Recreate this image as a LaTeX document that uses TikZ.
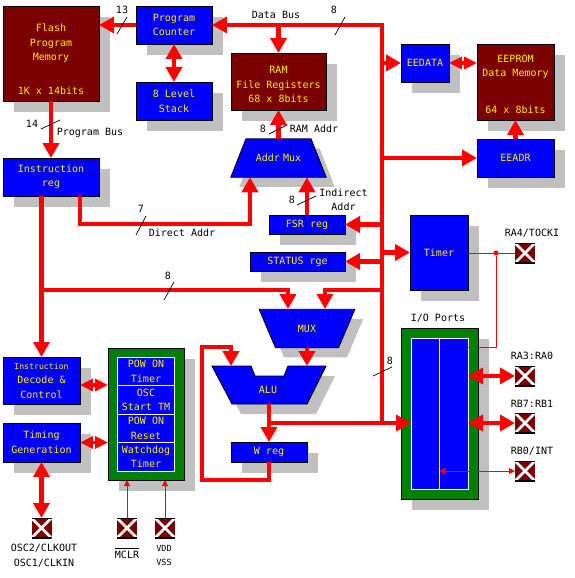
\documentclass[tikz,border=0pt]{standalone}
\usepackage{fontspec}
\setmainfont{DejaVu Sans Mono}
\usepackage{xcolor}
\usetikzlibrary{arrows.meta,shapes.geometric,shadows}
\definecolor{memred}{HTML}{7B0000}
\definecolor{boxgreen}{HTML}{008000}
\definecolor{shadowgray}{HTML}{C0C0C0}
\begin{document}
\begin{tikzpicture}[x=1pt,y=-1pt,
  every node/.style={inner sep=0pt,outer sep=0pt,font=\fontsize{10}{14.5}\selectfont,align=center},
  shaded/.style={general shadow={fill=shadowgray,shadow xshift=11pt,shadow yshift=-11pt}},
  polyshaded/.style={general shadow={fill=shadowgray,shadow xshift=8.5pt,shadow yshift=-9.5pt}},
  bluebox/.style={draw=black,line width=0.9pt,fill=blue,text=yellow,shaded},
  membox/.style={draw=black,line width=0.9pt,fill=memred,text=yellow,shaded},
  greenbox/.style={draw=black,line width=0.9pt,fill=boxgreen,shaded},
  cellbox/.style={draw=white,line width=0.8pt,fill=blue,text=yellow,minimum width=57.5pt,minimum height=28.5pt},
  muxbox/.style={draw=black,line width=0.9pt,fill=blue,text=yellow,trapezium,polyshaded,text height=23pt,text depth=15.5pt},
  ytext/.style={text=yellow},
  smalltext/.style={font=\fontsize{8.5}{14.5}\selectfont},
  padbox/.style={fill=memred,minimum size=20pt,path picture={
    \draw[white,line width=2.6pt] (path picture bounding box.north west)--(path picture bounding box.south east);
    \draw[white,line width=2.6pt] (path picture bounding box.north east)--(path picture bounding box.south west);
    \draw[black,line width=1.4pt] (path picture bounding box.north west)--(path picture bounding box.north east);
    \draw[black,line width=1.4pt] (path picture bounding box.south west)--(path picture bounding box.south east);}},
  bus/.style={red,line width=4.6pt},
  arr/.style={bus,-{Triangle[length=15pt,width=16pt]}},
  dbl/.style={bus,{Triangle[length=15pt,width=16pt]}-{Triangle[length=15pt,width=16pt]}},
  dblmid/.style={red,line width=3.6pt,{Triangle[length=13pt,width=12pt]}-{Triangle[length=13pt,width=12pt]}},
  wire/.style={red,line width=0.9pt},
  wirearr/.style={wire,-{Triangle[length=6pt,width=6pt]}},
  wiredbl/.style={wire,{Triangle[length=6pt,width=6pt]}-{Triangle[length=6pt,width=6pt]}},
  tick/.style={black,line width=0.7pt}]
  \useasboundingbox (0,0) rectangle (575,578);

  % Program side
  \node (flash) [membox,minimum width=96pt,minimum height=95pt] at (51,53.5) {};
  \node (flashname) [ytext] at (51,43.5) {Flash\\Program\\Memory};
  \node (flashsize) [ytext] at (51,91) {1K x 14bits};
  \node (pc) [bluebox,minimum width=76pt,minimum height=38pt] at (174,25) {Program\\Counter};
  \node (stack) [bluebox,minimum width=76pt,minimum height=38pt] at (174,101) {8 Level\\Stack};
  \node (instr) [bluebox,minimum width=96pt,minimum height=38pt] at (51,177) {Instruction\\reg};

  % RAM and address mux
  \node (ram) [membox,minimum width=95pt,minimum height=57pt] at (278.5,81.5) {};
  \node (ramname) [ytext] at (278.5,84.5) {RAM\\File Registers\\68 x 8bits};
  \node (addrmux) [muxbox,text width=65pt,trapezium angle=68.5] at (278.5,158) {Addr Mux};
  \node (fsr) [bluebox,minimum width=76pt,minimum height=19pt] at (307,224.5) {FSR reg};
  \node (status) [bluebox,minimum width=95pt,minimum height=19pt] at (297.5,261.5) {STATUS rge};

  % EEPROM
  \node (eedata) [bluebox,minimum width=48pt,minimum height=38pt] at (425,63) {EEDATA};
  \node (eeprom) [membox,minimum width=77pt,minimum height=76pt] at (515.5,82) {};
  \node (eepromname) [ytext] at (515.5,67) {EEPROM\\Data Memory};
  \node (eepromsize) [ytext] at (515.5,110) {64 x 8bits};
  \node (eeadr) [bluebox,minimum width=77pt,minimum height=38pt] at (515.5,158) {EEADR};

  % Timer and ports
  \node (timer) [bluebox,minimum width=58pt,minimum height=75pt] at (439,252.5) {Timer};
  \node (ioname) at (438,318) {I/O Ports};
  \node (iobox) [greenbox,minimum width=77pt,minimum height=171pt] at (439.5,413.5) {};
  \node (ioinner) [draw=white,line width=0.8pt,fill=blue,minimum width=57pt,minimum height=151pt] at (439.5,413.5) {};
  \draw[white,line width=0.8pt] (ioinner.north) -- (ioinner.south);

  % Pins on the right
  \node (ra4) [padbox] at (525,253) {};
  \node (ra3) [padbox] at (525,376) {};
  \node (rb7) [padbox] at (525,423) {};
  \node (rb0) [padbox] at (525,471) {};
  \node (ra4name) at (532,233) {RA4/TOCKI};
  \node (ra3name) at (532,356) {RA3:RA0};
  \node (rb7name) at (532,404) {RB7:RB1};
  \node (rb0name) at (532,451) {RB0/INT};

  % MUX, ALU, W reg
  \node (mux) [muxbox,text width=63pt,trapezium angle=67,shape border rotate=180] at (307,328.5) {MUX};
  \fill[shadowgray] (221,376) -- (260,376) -- (264,386) -- (293,386) -- (297,376) -- (335,376) -- (316,414) -- (241,414) -- cycle;
  \draw[line width=0.9pt,fill=blue] (212,366) -- (251,366) -- (255,376) -- (284,376) -- (288,366) -- (326,366) -- (307,404) -- (232,404) -- cycle;
  \node (alu) [ytext] at (268,390) {ALU};
  \coordinate (aluleft) at (231,366);
  \coordinate (aluright) at (307,366);
  \coordinate (aluout) at (269,404);
  \node (wreg) [bluebox,minimum width=76pt,minimum height=20pt] at (269,452) {W reg};

  % Control side
  \node (decode) [bluebox,minimum width=77pt,minimum height=47pt] at (41.5,380.5) {{\fontsize{8.2}{14.5}\selectfont Instruction}\\Decode \&\\Control};
  \node (timing) [bluebox,minimum width=77pt,minimum height=39pt] at (41.5,442.5) {Timing\\Generation};
  \node (oscbox) [greenbox,minimum width=76pt,minimum height=132pt] at (146,414) {};
  \node (powtimer) [cellbox] at (146,371.25) {POW ON\\Timer};
  \node (osctimer) [cellbox] at (146,399.75) {OSC\\Start TM};
  \node (powreset) [cellbox] at (146,428.25) {POW ON\\Reset};
  \node (watchdog) [cellbox] at (146,456.75) {Watchdog\\Timer};

  % Pins at the bottom
  \node (oscpad) [padbox] at (41.5,528) {};
  \node (mclrpad) [padbox] at (127,528) {};
  \node (vddpad) [padbox] at (165,528) {};
  \node (oscname) at (44,555.5) {OSC2/CLKOUT\\OSC1/CLKIN};
  \node (mclrname) at (127,553) {$\overline{\mbox{\rule{0pt}{8.5pt}MCLR}}$};
  \node (vddname) [smalltext] at (164,555.5) {VDD\\VSS};

  % Data bus
  \coordinate (bustop) at (382,25);
  \coordinate (busmid) at (382,290);
  \coordinate (busbot) at (382,423);
  \draw[arr] (busbot) -- (bustop) -- (pc.east);
  \draw[arr] (bustop -| ram.north) -- (ram.north);
  \draw[arr] (bustop |- eedata.west) -- (eedata.west);
  \draw[arr] (bustop |- eeadr.west) -- (eeadr.west);
  \draw[arr] (bustop |- fsr.east) -- (fsr.east);
  \draw[arr] (bustop |- timer.west) -- (timer.west);
  \draw[arr] (bustop |- status.east) -- (status.east);

  % Program connections
  \draw[arr] (pc.west) -- (pc.west -| flash.east);
  \draw[dbl] (pc.south) -- (stack.north);
  \draw[arr] (flash.south) -- (instr.north);
  \coordinate (direct) at (250,224);
  \draw[arr] ([xshift=29pt]instr.south) |- (direct) -- (direct |- addrmux.south);

  % RAM and EEPROM connections
  \draw[arr] (addrmux.north) -- (ram.south);
  \draw[arr] (fsr.north) -- (fsr.north |- addrmux.south);
  \draw[dblmid] (eedata.east) -- (eedata.east -| eeprom.west);
  \draw[arr] (eeadr.north) -- (eeprom.south);

  % Instruction bus down to the MUX and decoder
  \coordinate (muxleft) at (288,309);
  \coordinate (muxright) at (325,309);
  \draw[arr] (decode.north |- instr.south) -- (decode.north);
  \draw[arr] (decode.north |- busmid) -| (muxleft);
  \draw[arr] (busmid) -| (muxright);

  % ALU loop
  \coordinate (loopbot) at (202,480);
  \coordinate (looptop) at (202,347);
  \draw[arr] (mux.south) -- (aluright);
  \draw[arr] (aluout) -- (wreg.north);
  \draw[arr] (aluout |- busbot) -- (ioinner.west |- busbot);
  \draw[arr] (wreg.south) |- (loopbot) -- (looptop) -| (aluleft);

  % Control connections
  \draw[dblmid] ([yshift=-4.5pt]decode.east) -- ([yshift=-4.5pt]decode.east -| oscbox.west);
  \draw[dblmid] (timing.east) -- (timing.east -| oscbox.west);
  \draw[dbl] (timing.south) -- (oscpad.north);
  \draw[wirearr] (mclrpad.north) -- (mclrpad.north |- oscbox.south);
  \draw[wirearr] (vddpad.north) -- (vddpad.north |- oscbox.south);

  % Port connections
  \node (tap) [circle,fill=red,minimum size=5pt] at (496,253) {};
  \draw[wire] (timer.east |- ra4.west) -- (ra4.west);
  \draw[wire] (tap) |- ([yshift=-9pt]ioinner.north east);
  \draw[dbl] (ioinner.east |- ra3.west) -- (ra3.west);
  \draw[dbl] (ioinner.east |- rb7.west) -- (rb7.west);
  \draw[wiredbl] (ioinner.center |- rb0.west) -- (rb0.west);

  % Bus width ticks and bus names
  \draw[tick] (117,34) -- (127,17);
  \node (width13) at (122,10) {13};
  \draw[tick] (41,129) -- (60,120);
  \node (width14) at (32,124) {14};
  \node (progbus) at (90,133) {Program Bus};
  \node (databus) at (276,15) {Data Bus};
  \draw[tick] (335,35) -- (345,17);
  \node (width8a) at (334,10) {8};
  \draw[tick] (269,134) -- (287,125);
  \node (width8b) at (263,129) {8};
  \node (ramaddr) at (314,129) {RAM Addr};
  \draw[tick] (136,235) -- (146,216);
  \node (width7) at (141,209) {7};
  \node (directname) at (182,233) {Direct Addr};
  \draw[tick] (164,300) -- (174,282);
  \node (width8c) at (168,276) {8};
  \draw[tick] (297,205) -- (316,196);
  \node (width8d) at (292,200) {8};
  \node (indirectname) at (343.5,200) {Indirect\\Addr};
  \draw[tick] (373,376) -- (392,367);
  \node (width8e) at (390,361) {8};
\end{tikzpicture}
\end{document}
